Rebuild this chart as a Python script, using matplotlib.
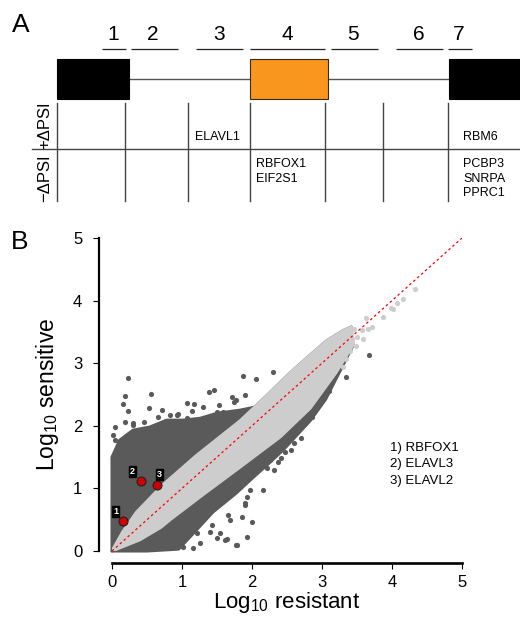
import matplotlib
matplotlib.use('Agg')
import matplotlib.pyplot as plt
from matplotlib.patches import Rectangle, Polygon

plt.rcParams['font.family'] = ['Liberation Sans', 'DejaVu Sans']

# ---------------- Panel A data ----------------
region_labels = ['1', '2', '3', '4', '5', '6', '7']
plus_genes = [[], [], ['ELAVL1'], [], [], [], ['RBM6']]
minus_genes = [[], [], [], ['RBFOX1', 'EIF2S1'], [], [], ['PCBP3', 'SNRPA', 'PPRC1']]
row_labels = ['+ΔPSI', '−ΔPSI']

# ---------------- Panel B data ----------------
# light (non-significant) band envelope
light_upper_x = [0.0, 0.15, 0.35, 0.72, 1.2, 1.83, 2.2, 2.54, 2.8, 3.07, 3.3, 3.42]
light_upper_y = [0.0, 0.30, 0.62, 1.05, 1.52, 2.08, 2.47, 2.84, 3.10, 3.36, 3.52, 3.58]
light_lower_x = [0.0, 0.4, 0.7, 0.83, 1.3, 1.83, 2.4, 2.83, 3.2, 3.45]
light_lower_y = [0.0, 0.18, 0.38, 0.5, 0.9, 1.34, 1.82, 2.28, 2.85, 3.3]
# dense dark region above the band (upper envelope)
dark_up_x = [0.0, 0.0, 0.11, 0.3, 0.54, 0.78, 1.02, 1.26, 1.5, 1.83, 2.05]
dark_up_y = [0.0, 1.50, 1.77, 1.93, 1.98, 2.09, 2.09, 2.12, 2.2, 2.25, 2.30]
# dense dark region below the band (lower envelope)
dark_lo_x = [0.0, 0.5, 0.95, 1.11, 1.44, 1.78, 2.02, 2.26, 2.45, 2.64, 2.83, 3.05]
dark_lo_y = [0.0, 0.0, 0.03, 0.22, 0.62, 0.93, 1.18, 1.42, 1.62, 1.85, 2.08, 2.42]
# scattered dark points
dark_x = [0.23, 0.19, 0.15, 0.23, 0.56, 0.53, 0.72, 0.83, 0.94, 1.07, 1.17, 1.14,
          1.39, 1.46, 1.50, 1.59, 1.71, 1.77, 1.87, 1.90, 2.06, 2.30, 0.04, 0.19,
          0.30, 0.45, 0.65, 1.30, 1.61, 0.93, 1.07, 0.02, 0.04, 0.30, 1.53, 1.74,
          1.16, 1.01, 1.50, 1.64, 1.77, 1.40, 1.21, 1.93, 2.00, 1.69, 1.66, 1.90,
          1.54, 1.43, 1.97, 2.21, 2.26, 2.37, 2.47, 3.01, 3.07, 2.76, 3.10, 3.00,
          2.89, 2.86, 3.34, 3.67, 2.55, 2.70, 1.93, 1.90, 1.79, 1.61, 2.32, 2.60,
          1.25, 1.85, 2.15, 2.42]
dark_y = [2.76, 2.48, 2.35, 2.24, 2.51, 2.29, 2.25, 2.17, 2.19, 2.36, 2.35, 2.24,
          2.54, 2.57, 2.22, 2.22, 2.46, 2.41, 2.80, 2.49, 2.75, 2.86, 1.98, 2.06,
          2.01, 2.06, 2.14, 2.30, 2.20, 2.17, 2.12, 1.85, 1.77, 2.04, 2.33, 2.38,
          0.05, 0.06, 0.21, 0.19, 0.10, 0.30, 0.29, 0.22, 0.46, 0.50, 0.58, 0.77,
          0.29, 0.42, 0.97, 1.33, 1.45, 1.42, 1.58, 2.46, 2.54, 2.06, 2.56, 2.52,
          2.43, 2.14, 2.78, 3.13, 1.62, 1.80, 0.86, 0.73, 0.10, 0.18, 1.30, 1.72,
          0.12, 0.55, 0.98, 1.48]
# scattered light points
light_x = [4.33, 4.16, 4.07, 4.01, 3.99, 3.87, 3.63, 3.71, 3.66, 3.57, 3.46, 3.31,
           3.50, 3.43, 3.26, 3.49, 3.13, 3.34, 3.30, 3.58, 3.40]
light_y = [4.19, 4.03, 3.96, 3.87, 3.88, 3.74, 3.72, 3.58, 3.55, 3.53, 3.55, 3.50,
           3.42, 3.39, 3.35, 3.27, 3.26, 3.07, 2.94, 3.38, 3.20]
# highlighted genes
hl_ids = ['1', '2', '3']
hl_names = ['RBFOX1', 'ELAVL3', 'ELAVL2']
hl_x = [0.15, 0.42, 0.64]
hl_y = [0.48, 1.12, 1.05]

DARK = '#5a5a5a'
LIGHT = '#cdcdcd'
W, H = 520, 617

fig = plt.figure(figsize=(W / 100, H / 100), dpi=100)

# ======== Panel A (pixel coordinate axes) ========
axA = fig.add_axes([0, 0, 1, 1])
axA.set_xlim(0, W)
axA.set_ylim(H, 0)
axA.axis('off')

axA.text(21, 25, 'A', fontsize=19, ha='center', va='center')

label_cx = [113, 153, 219, 287, 353, 419, 459]
seg_spans = [(102, 126), (131, 178), (196, 243), (250, 325), (331, 378), (396, 443), (448, 472)]
for lab, cx, (s0, s1) in zip(region_labels, label_cx, seg_spans):
    axA.text(cx, 35, lab, fontsize=15, ha='center', va='center')
    axA.plot([s0, s1], [49, 49], color='#222222', lw=0.9, solid_capstyle='butt')

# gene model
axA.plot([129, 250], [79, 79], color='#555555', lw=1.0, zorder=1)
axA.plot([328, 449], [79, 79], color='#555555', lw=1.0, zorder=1)
axA.add_patch(Rectangle((57, 59), 72, 40, facecolor='black', edgecolor='black', lw=0.8, zorder=2))
axA.add_patch(Rectangle((250, 59), 78, 40, facecolor='#f8961e', edgecolor='#3a2a10', lw=0.8, zorder=2))
axA.add_patch(Rectangle((449, 59), 75, 40, facecolor='black', edgecolor='black', lw=0.8, zorder=2))

# table
col_edges = [57, 125, 188, 250, 325, 383, 448]
for xe in col_edges:
    axA.plot([xe, xe], [103, 201], color='#444444', lw=1.0)
axA.plot([32, 520], [149, 149], color='#444444', lw=1.0)
axA.text(45, 125, row_labels[0], fontsize=12, rotation=90, ha='center', va='center')
axA.text(45, 178, row_labels[1], fontsize=12, rotation=90, ha='center', va='center')

text_x = [64, 132, 195, 256, 332, 390, 463]
line_h = 14.5
for i, genes in enumerate(plus_genes):
    n = len(genes)
    for j, g in enumerate(genes):
        axA.text(text_x[i], 137 - (n - 1 - j) * line_h, g, fontsize=9, ha='left', va='center')
for i, genes in enumerate(minus_genes):
    for j, g in enumerate(genes):
        axA.text(text_x[i], 164 + j * line_h, g, fontsize=9, ha='left', va='center')

axA.text(20, 242, 'B', fontsize=19, ha='center', va='center')

# ======== Panel B scatter ========
x0, x1 = 112, 462
y0, y1 = 551, 238
ax = fig.add_axes([x0 / W, 1 - y0 / H, (x1 - x0) / W, (y0 - y1) / H])
ax.set_facecolor('none')
ax.set_xlim(0, 5)
ax.set_ylim(0, 5)

# dark regions
up_poly = list(zip(dark_up_x, dark_up_y)) + list(zip(light_upper_x, light_upper_y))[::-1]
ax.add_patch(Polygon(up_poly, closed=True, facecolor=DARK, edgecolor=DARK, lw=2.2,
                     joinstyle='round', zorder=1, clip_on=False))
lo_poly = list(zip(light_lower_x, light_lower_y)) + list(zip(dark_lo_x, dark_lo_y))[::-1]
ax.add_patch(Polygon(lo_poly, closed=True, facecolor=DARK, edgecolor=DARK, lw=2.2,
                     joinstyle='round', zorder=1, clip_on=False))
ax.scatter(dark_x, dark_y, s=14, color=DARK, lw=0, zorder=1.5, clip_on=False)

# light band
band = list(zip(light_upper_x, light_upper_y)) + list(zip(light_lower_x, light_lower_y))[::-1]
ax.add_patch(Polygon(band, closed=True, facecolor=LIGHT, edgecolor=LIGHT, lw=2.2,
                     joinstyle='round', zorder=2))
ax.scatter(light_x, light_y, s=14, color=LIGHT, lw=0, zorder=2)

# diagonal
ax.plot([0, 5], [0, 5], color='red', lw=0.9, ls=(0, (2, 2.2)), zorder=3)

# highlighted genes
ax.scatter(hl_x, hl_y, s=42, facecolor='#d00000', edgecolor='#222222', lw=0.8, zorder=4)
offsets = [(-5, 7), (-6.5, 7), (2, 8)]
for gid, gx, gy, off in zip(hl_ids, hl_x, hl_y, offsets):
    ax.annotate(gid, (gx, gy), xytext=off, textcoords='offset points', fontsize=6.5,
                color='white', fontweight='bold', ha='center', va='center', zorder=5,
                bbox=dict(boxstyle='square,pad=0.1', facecolor='black', edgecolor='black'))

for k, (gid, nm) in enumerate(zip(hl_ids, hl_names)):
    ax.text(3.97, 1.65 - k * 0.265, f'{gid}) {nm}', fontsize=9.5, ha='left', va='center')

# axes styling (R-like detached axes)
for s in ['top', 'right']:
    ax.spines[s].set_visible(False)
ax.spines['left'].set_position(('outward', 9.4))
ax.spines['bottom'].set_position(('outward', 8.6))
ax.spines['left'].set_linewidth(1.6)
ax.spines['bottom'].set_linewidth(1.9)
ax.set_xticks([0, 1, 2, 3, 4, 5])
ax.set_yticks([0, 1, 2, 3, 4, 5])
ax.tick_params(axis='y', length=4, width=0.8, labelsize=12, pad=8)
ax.tick_params(axis='x', length=4, width=0.8, labelsize=12, pad=5)

fig.text(48 / W, 1 - 394 / H, 'Log$_{\\mathregular{10}}$ sensitive', rotation=90,
         fontsize=16.5, ha='center', va='center')
fig.text(287 / W, 1 - 608 / H, 'Log$_{\\mathregular{10}}$ resistant',
         fontsize=16, ha='center', va='baseline')

fig.savefig('out.png', dpi=100)
